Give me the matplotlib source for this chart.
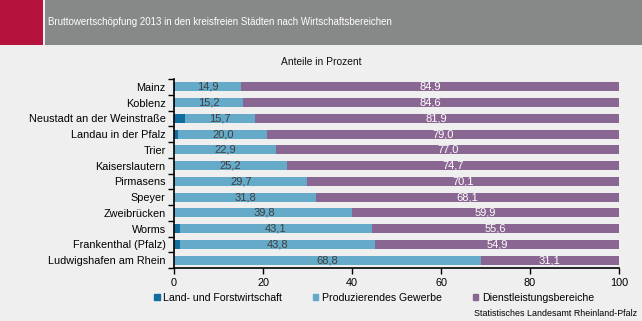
import numpy as np
import matplotlib
matplotlib.use("Agg")
import matplotlib.pyplot as plt
from matplotlib.patches import Patch, Rectangle

plt.rcParams['font.family'] = ['Liberation Sans', 'DejaVu Sans']

cities = ['Mainz', 'Koblenz', 'Neustadt an der Weinstraße', 'Landau in der Pfalz', 'Trier',
          'Kaiserslautern', 'Pirmasens', 'Speyer', 'Zweibrücken', 'Worms',
          'Frankenthal (Pfalz)', 'Ludwigshafen am Rhein']
land = [0.2, 0.2, 2.4, 1.0, 0.1, 0.1, 0.2, 0.1, 0.3, 1.3, 1.3, 0.1]
prod = [14.9, 15.2, 15.7, 20.0, 22.9, 25.2, 29.7, 31.8, 39.8, 43.1, 43.8, 68.8]
dienst = [84.9, 84.6, 81.9, 79.0, 77.0, 74.7, 70.1, 68.1, 59.9, 55.6, 54.9, 31.1]
series_names = ['Land- und Forstwirtschaft', 'Produzierendes Gewerbe', 'Dienstleistungsbereiche']

bg = '#EEEFEE'
c_land = '#0F6E9E'
c_prod = '#65AAC8'
c_dienst = '#8A6792'

fig = plt.figure(figsize=(6.42, 3.21), dpi=100, facecolor=bg)

# header
fig.patches.append(Rectangle((0, 1 - 44.5/321), 43/642, 44.5/321, transform=fig.transFigure,
                             facecolor='#B5123E', edgecolor='none'))
fig.patches.append(Rectangle((45/642, 1 - 44.5/321), 1, 44.5/321, transform=fig.transFigure,
                             facecolor='#878888', edgecolor='none'))
fig.text(48/642, 1 - 22/321, 'Bruttowertschöpfung 2013 in den kreisfreien Städten nach Wirtschaftsbereichen',
         color='white', fontsize=7.0, va='center', ha='left')
fig.text(321/642, 1 - 62/321, 'Anteile in Prozent', fontsize=7.4, ha='center', va='center', color='#111111')

ax = fig.add_axes([174/642, 1 - 268/321, 445/642, 189/321])
ax.set_facecolor(bg)

y = np.arange(len(cities))
h = 0.57
land = np.array(land)
prod = np.array(prod)
dienst = np.array(dienst)
ax.barh(y, land, height=h, color=c_land)
ax.barh(y, prod, left=land, height=h, color=c_prod)
ax.barh(y, dienst, left=land + prod, height=h, color=c_dienst)

for i in range(len(cities)):
    ax.text(land[i] + prod[i] / 2, y[i], f'{prod[i]:.1f}'.replace('.', ','),
            ha='center', va='center', fontsize=8, color='#404040')
    ax.text(land[i] + prod[i] + dienst[i] / 2, y[i], f'{dienst[i]:.1f}'.replace('.', ','),
            ha='center', va='center', fontsize=8, color='white')

ax.set_xlim(0, 100)
ax.set_ylim(len(cities) - 0.5, -0.5)
ax.set_xticks([0, 20, 40, 60, 80, 100])
ax.set_yticks(y)
ax.set_yticklabels(cities)
ax.set_yticks(np.arange(-0.5, len(cities)), minor=True)
ax.tick_params(axis='y', which='major', length=0, labelsize=7.8, pad=6)
ax.tick_params(axis='y', which='minor', length=4, direction='out', width=1)
ax.tick_params(axis='x', length=4, direction='out', width=1, labelsize=7.8, pad=3)
for s in ['top', 'right']:
    ax.spines[s].set_visible(False)
ax.spines['left'].set_linewidth(1.2)
ax.spines['bottom'].set_linewidth(1.2)

handles = [Patch(color=c) for c in (c_land, c_prod, c_dienst)]
fig.legend(handles, series_names, loc='center', bbox_to_anchor=(374/642, 1 - 298/321), ncol=3,
           frameon=False, fontsize=7.6, handlelength=0.5, handleheight=0.5, handletextpad=0.3,
           columnspacing=3.0)

fig.text(637/642, 1 - 313/321, 'Statistisches Landesamt Rheinland-Pfalz', fontsize=6.4, ha='right', va='center')

fig.savefig('out.png', dpi=100, facecolor=bg)
